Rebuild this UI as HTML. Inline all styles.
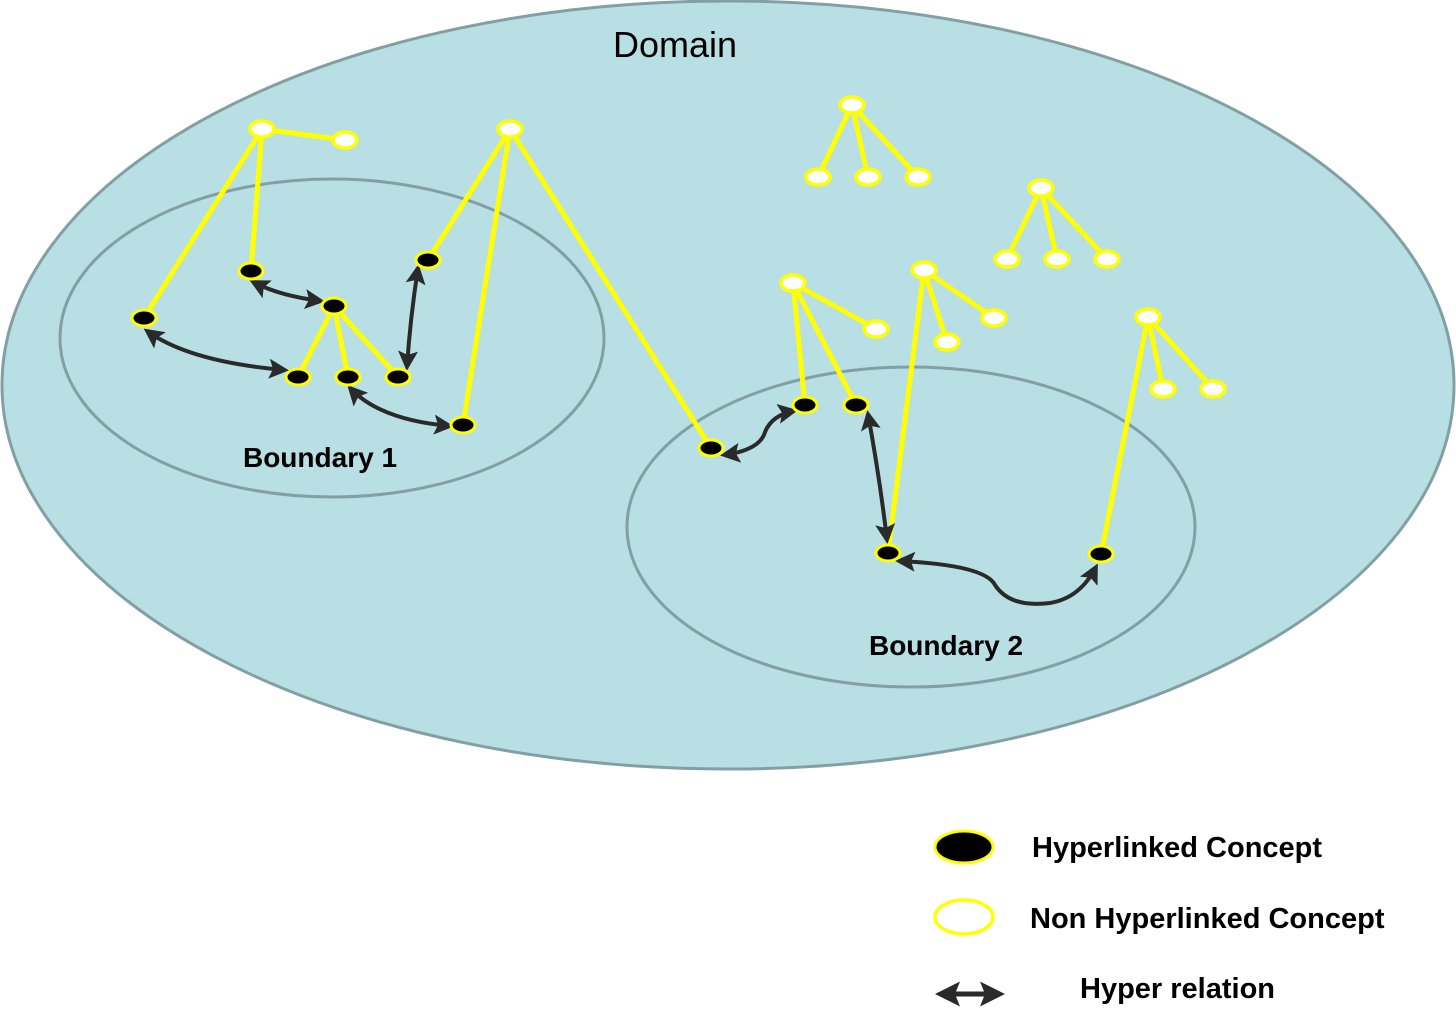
<!DOCTYPE html>
<html><head><style>body{margin:0;background:#fff}svg{display:block}</style></head><body>
<svg width="1456" height="1023" viewBox="0 0 1456 1023" xmlns="http://www.w3.org/2000/svg">
<defs>
<marker id="a" viewBox="0 0 10 10" refX="8" refY="5" markerWidth="5" markerHeight="5" orient="auto-start-reverse" markerUnits="strokeWidth">
<path d="M0,0 L10,5 L0,10 L2,5 Z" fill="#2a2a2a"/></marker>
</defs>
<ellipse cx="728" cy="385" rx="726" ry="384" fill="#b8dfe3" stroke="#829fa3" stroke-width="3"/>
<ellipse cx="332" cy="338" rx="272" ry="159" fill="none" stroke="#829fa3" stroke-width="3"/>
<ellipse cx="911" cy="527" rx="284" ry="160" fill="none" stroke="#829fa3" stroke-width="3"/>
<text x="675" y="57" font-family="Liberation Sans, sans-serif" font-size="36" text-anchor="middle" fill="#000">Domain</text>
<text x="320" y="467" font-family="Liberation Sans, sans-serif" font-size="28" font-weight="bold" text-anchor="middle">Boundary 1</text>
<text x="946" y="655" font-family="Liberation Sans, sans-serif" font-size="28" font-weight="bold" text-anchor="middle">Boundary 2</text>
<g stroke="#ffff00" stroke-width="5" fill="none">
<path d="M262,129L144,318M262,129L251,271M262,129L345,140M510,129L428,260M510,129L463,425M510,129L711,448M334,306L298,377M334,306L348,377M334,306L398,377M852,105L818,177M852,105L868,177M852,105L918,177M1041,188L1007,259M1041,188L1057,259M1041,188L1107,259M793,283L876,329M793,283L805,405M793,283L856,405M924,270L888,553M924,270L947,342M924,270L994,318M1148,317L1101,554M1148,317L1163,389M1148,317L1213,389"/>
</g>
<g stroke="#2a2a2a" stroke-width="4" fill="none" marker-start="url(#a)" marker-end="url(#a)">
<path d="M253,282 Q280,296 321,301"/>
<path d="M147,331 Q190,362 285,370"/>
<path d="M350,388 Q380,420 450,426"/>
<path d="M418,268 Q410,320 407,367"/>
<path d="M724,455 Q760,450 765,432 Q772,415 794,411"/>
<path d="M868,414 Q880,480 887,540"/>
<path d="M899,561 Q985,565 995,585 Q1010,608 1050,603 Q1080,598 1096,567"/>
</g>
<g stroke="#ffff00" stroke-width="3.5" fill="#fff">
<ellipse cx="262" cy="129" rx="12" ry="8"/><ellipse cx="345" cy="140" rx="12" ry="8"/><ellipse cx="510" cy="129" rx="12" ry="8"/>
<ellipse cx="852" cy="105" rx="12" ry="8"/><ellipse cx="818" cy="177" rx="12" ry="8"/><ellipse cx="868" cy="177" rx="12" ry="8"/><ellipse cx="918" cy="177" rx="12" ry="8"/>
<ellipse cx="1041" cy="188" rx="12" ry="8"/><ellipse cx="1007" cy="259" rx="12" ry="8"/><ellipse cx="1057" cy="259" rx="12" ry="8"/><ellipse cx="1107" cy="259" rx="12" ry="8"/>
<ellipse cx="793" cy="283" rx="12" ry="8"/><ellipse cx="876" cy="329" rx="12" ry="8"/><ellipse cx="924" cy="270" rx="12" ry="8"/><ellipse cx="947" cy="342" rx="12" ry="8"/><ellipse cx="994" cy="318" rx="12" ry="8"/>
<ellipse cx="1148" cy="317" rx="12" ry="8"/><ellipse cx="1163" cy="389" rx="12" ry="8"/><ellipse cx="1213" cy="389" rx="12" ry="8"/>
</g>
<g stroke="#ffff00" stroke-width="3" fill="#000">
<ellipse cx="144" cy="318" rx="12" ry="8"/><ellipse cx="251" cy="271" rx="12" ry="8"/><ellipse cx="334" cy="306" rx="12" ry="8"/>
<ellipse cx="298" cy="377" rx="12" ry="8"/><ellipse cx="348" cy="377" rx="12" ry="8"/><ellipse cx="398" cy="377" rx="12" ry="8"/>
<ellipse cx="428" cy="260" rx="12" ry="8"/><ellipse cx="463" cy="425" rx="12" ry="8"/><ellipse cx="711" cy="448" rx="12" ry="8"/>
<ellipse cx="805" cy="405" rx="12" ry="8"/><ellipse cx="856" cy="405" rx="12" ry="8"/><ellipse cx="888" cy="553" rx="12" ry="8"/><ellipse cx="1101" cy="554" rx="12" ry="8"/>
</g>
<ellipse cx="964" cy="847" rx="29" ry="16" fill="#000" stroke="#ffff00" stroke-width="3"/>
<ellipse cx="964" cy="917" rx="29" ry="17" fill="#fff" stroke="#ffff00" stroke-width="3.5"/>
<path d="M940,994 L1000,994" stroke="#2a2a2a" stroke-width="5" marker-start="url(#a)" marker-end="url(#a)"/>
<g font-family="Liberation Sans, sans-serif" font-size="29" font-weight="bold" fill="#000">
<text x="1032" y="857">Hyperlinked Concept</text>
<text x="1030" y="928">Non Hyperlinked Concept</text>
<text x="1080" y="998">Hyper relation</text>
</g>
</svg>
</body></html>
